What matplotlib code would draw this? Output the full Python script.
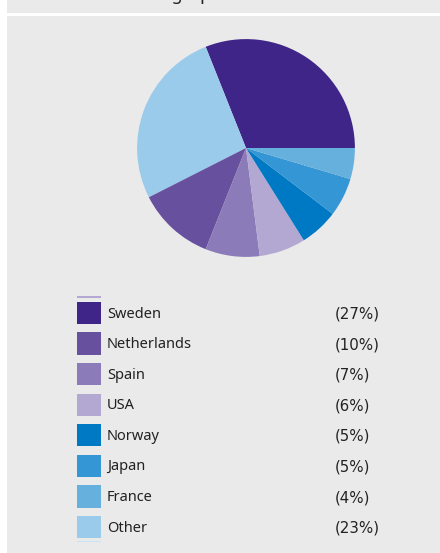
import matplotlib.pyplot as plt
from matplotlib.patches import Rectangle

plt.rcParams['font.family'] = ['Noto Sans', 'DejaVu Sans']

title = "Geographical location"
countries = ['Sweden', 'Netherlands', 'Spain', 'USA', 'Norway', 'Japan', 'France', 'Other']
shares = [27, 10, 7, 6, 5, 5, 4, 23]
colors = ['#3f2587', '#67509e', '#8b7bb8', '#b3a8d2', '#0079c5', '#3496d5', '#66b0de', '#9bcbea']
# order of the slices going round the pie (counter-clockwise from 3 o'clock)
pie_order = [0, 7, 1, 2, 3, 4, 5, 6]

bg = '#eaeaea'
W, H = 440, 553

fig = plt.figure(figsize=(4.4, 5.53), dpi=100, facecolor='white')

# background panels, in pixel coordinates
base = fig.add_axes([0, 0, 1, 1])
base.set_xlim(0, W)
base.set_ylim(H, 0)
base.axis('off')
base.add_patch(Rectangle((7, 0), W - 7, 13, color=bg, lw=0))
base.add_patch(Rectangle((7, 15.5), W - 7, H - 15.5, color=bg, lw=0))
# title sits mostly above the top edge, as in the source crop
base.text(230, 0.5, title, ha='center', va='baseline', fontsize=13,
          fontweight='bold', color='#222222')

# pie
ax = fig.add_axes([136 / W, 1 - 258 / H, 220 / W, 220 / H])
ax.pie([shares[i] for i in pie_order], colors=[colors[i] for i in pie_order],
       startangle=0, counterclock=True, radius=1,
       wedgeprops=dict(linewidth=0))
ax.set_xlim(-1.01, 1.01)
ax.set_ylim(-1.01, 1.01)
ax.set_aspect('equal')

# legend
row0, pitch = 313, 30.6
base.add_patch(Rectangle((77, 296.3), 24, 1.2, color='#b3a8d2', lw=0))
base.add_patch(Rectangle((77, 540.5), 24, 1.2, color='#c8e3f5', lw=0))
for i, (name, pct, c) in enumerate(zip(countries, shares, colors)):
    y = row0 + i * pitch
    base.add_patch(Rectangle((77, y - 11.3), 24, 22.3, color=c, lw=0))
    base.text(107, y + 1, name, ha='left', va='center', fontsize=10.5, color='#222222')
    base.text(335, y + 1, f'({pct}%)', ha='left', va='center', fontsize=10.8,
              family='DejaVu Sans', color='#222222')

fig.savefig('out.png', dpi=100, facecolor='white')
